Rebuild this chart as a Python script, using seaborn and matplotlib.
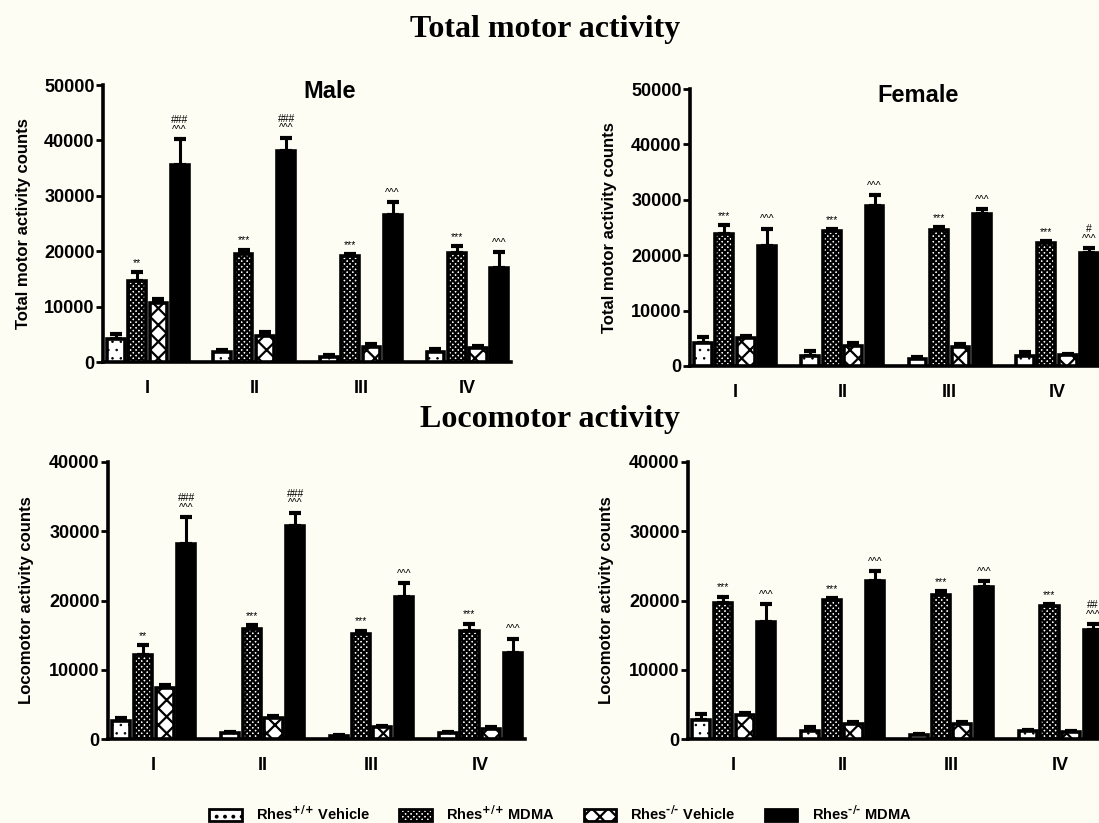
import pandas as pd
import seaborn as sns
import matplotlib.pyplot as plt
from matplotlib.patches import Patch
from matplotlib.container import BarContainer

# Periods and treatment groups
periods = ['I', 'II', 'III', 'IV']
groups = ['Rhes+/+ Vehicle', 'Rhes+/+ MDMA', 'Rhes-/- Vehicle', 'Rhes-/- MDMA']
legend_labels = [r'Rhes$^{\text{+/+}}$ Vehicle', r'Rhes$^{\text{+/+}}$ MDMA',
                 r'Rhes$^{\text{-/-}}$ Vehicle', r'Rhes$^{\text{-/-}}$ MDMA']

# Total motor activity - male (mean, SEM), order = groups
male_total_mean = [[4200, 1800, 900, 1750],
                   [14600, 19500, 19100, 19600],
                   [10700, 4700, 2700, 2550],
                   [35600, 38100, 26500, 17000]]
male_total_sem = [[800, 450, 300, 600],
                  [1600, 800, 400, 1300],
                  [750, 700, 500, 400],
                  [4700, 2400, 2300, 2800]]

# Total motor activity - female
female_total_mean = [[4200, 1800, 1300, 1800],
                     [23800, 24350, 24500, 22200],
                     [5100, 3650, 3450, 1950],
                     [21600, 28900, 27400, 20350]]
female_total_sem = [[1100, 900, 400, 750],
                    [1650, 350, 600, 300],
                    [300, 550, 500, 300],
                    [3200, 1950, 900, 950]]

# Locomotor activity - male
male_loco_mean = [[2600, 850, 450, 850],
                  [12100, 15850, 15200, 15550],
                  [7300, 3050, 1700, 1450],
                  [28200, 30800, 20550, 12350]]
male_loco_sem = [[500, 200, 100, 200],
                 [1450, 600, 450, 1100],
                 [550, 250, 200, 250],
                 [3900, 1900, 2000, 2150]]

# Locomotor activity - female
female_loco_mean = [[2800, 1100, 600, 1100],
                    [19650, 20100, 20800, 19250],
                    [3500, 2150, 2200, 950],
                    [16900, 22850, 21950, 15750]]
female_loco_sem = [[850, 650, 150, 250],
                   [900, 200, 500, 200],
                   [250, 350, 250, 150],
                   [2550, 1350, 800, 850]]

# Significance marks above Rhes+/+ MDMA and Rhes-/- MDMA bars
male_total_marks = [['**', '***', '***', '***'], ['###\n^^^', '###\n^^^', '^^^', '^^^']]
female_total_marks = [['***', '***', '***', '***'], ['^^^', '^^^', '^^^', '#\n^^^']]
male_loco_marks = [['**', '***', '***', '***'], ['###\n^^^', '###\n^^^', '^^^', '^^^']]
female_loco_marks = [['***', '***', '***', '***'], ['^^^', '^^^', '^^^', '##\n^^^']]

hatches = ['..', 'xxxxxx', 'xx', '']
hatch_widths = [0.6, 1.6, 1.6, 1.6]
colors = ['white', 'white', 'white', 'black']
bg = '#fdfdf4'

sns.set_theme(style='ticks')
plt.rcParams['font.family'] = ['Liberation Sans', 'DejaVu Sans']
plt.rcParams['font.weight'] = 'bold'
plt.rcParams['mathtext.default'] = 'bf'
plt.rcParams['hatch.linewidth'] = 1.6
for key in ['text.color', 'axes.labelcolor', 'xtick.color', 'ytick.color', 'axes.edgecolor']:
    plt.rcParams[key] = 'black'


def style_hatch(patch, i):
    patch.set_hatch(hatches[i])
    if hasattr(patch, 'set_hatch_linewidth'):
        patch.set_hatch_linewidth(hatch_widths[i])


def draw_panel(ax, means, sems, marks, ymax, ylabel, title=None):
    rows = []
    for g, name in enumerate(groups):
        for p, per in enumerate(periods):
            rows.append({'period': per, 'group': name, 'mean': means[g][p], 'sem': sems[g][p]})
    df = pd.DataFrame(rows)
    sns.barplot(data=df, x='period', y='mean', hue='group', hue_order=groups,
                palette=colors, edgecolor='black', linewidth=2.6, gap=0.17,
                errorbar=None, legend=False, ax=ax, zorder=3)
    bar_sets = [c for c in ax.containers if isinstance(c, BarContainer)]
    for g, cont in enumerate(bar_sets):
        for p, bar in enumerate(cont.patches):
            style_hatch(bar, g)
            xc = bar.get_x() + bar.get_width() / 2
            top = bar.get_height()
            ax.errorbar(xc, top, yerr=[[0], [sems[g][p]]], color='black',
                        elinewidth=2.2, capsize=4.5, capthick=3, zorder=2)
            if g in (1, 3):
                ax.annotate(marks[0 if g == 1 else 1][p], (xc, top + sems[g][p]),
                            xytext=(0, 3), textcoords='offset points',
                            ha='center', va='bottom', fontsize=7.5,
                            fontweight='normal', linespacing=0.95)
    ax.set_ylim(0, ymax)
    ax.set_xlim(-0.42, 3.41)
    ax.set_yticks(range(0, ymax + 1, 10000))
    ax.set_facecolor('none')
    for side in ['top', 'right']:
        ax.spines[side].set_visible(False)
    for side in ['left', 'bottom']:
        ax.spines[side].set_linewidth(2.6)
    ax.tick_params(axis='y', length=5, width=2, labelsize=13, pad=1)
    ax.tick_params(axis='x', length=0, labelsize=13, pad=13)
    ax.set_xlabel('')
    ax.set_ylabel(ylabel, fontsize=12, fontweight='bold')
    ax.yaxis.set_label_coords(-0.177, 0.5)
    if title:
        ax.text(0.555, 0.975, title, transform=ax.transAxes, ha='center', va='center',
                fontsize=17, fontweight='bold')


W, H = 1099, 823
fig = plt.figure(figsize=(W / 100, H / 100), dpi=100)
fig.patch.set_facecolor(bg)

ax1 = fig.add_axes([103 / W, 1 - 362 / H, 408 / W, 277 / H])
ax2 = fig.add_axes([690 / W, 1 - 366 / H, 411 / W, 277 / H])
ax3 = fig.add_axes([108 / W, 1 - 739 / H, 417 / W, 277 / H])
ax4 = fig.add_axes([688 / W, 1 - 739 / H, 417 / W, 277 / H])

draw_panel(ax1, male_total_mean, male_total_sem, male_total_marks, 50000,
           'Total motor activity counts', 'Male')
draw_panel(ax2, female_total_mean, female_total_sem, female_total_marks, 50000,
           'Total motor activity counts', 'Female')
draw_panel(ax3, male_loco_mean, male_loco_sem, male_loco_marks, 40000,
           'Locomotor activity counts')
draw_panel(ax4, female_loco_mean, female_loco_sem, female_loco_marks, 40000,
           'Locomotor activity counts')

fig.text(545 / W, 1 - 30 / H, 'Total motor activity', ha='center', va='center',
         fontsize=23, fontweight='bold', family=['Liberation Serif', 'DejaVu Serif'])
fig.text(550 / W, 1 - 420 / H, 'Locomotor activity', ha='center', va='center',
         fontsize=23, fontweight='bold', family=['Liberation Serif', 'DejaVu Serif'])

handles = []
for i in range(4):
    h = Patch(facecolor=colors[i], edgecolor='black', linewidth=2, label=legend_labels[i])
    style_hatch(h, i)
    handles.append(h)
fig.legend(handles=handles, loc='lower center', bbox_to_anchor=(0.51, -0.016), ncol=4,
           frameon=False, fontsize=10.5, handlelength=2.2, handleheight=0.9,
           handletextpad=1.0, columnspacing=2.0)

fig.savefig('out.png', dpi=100, facecolor=bg)
